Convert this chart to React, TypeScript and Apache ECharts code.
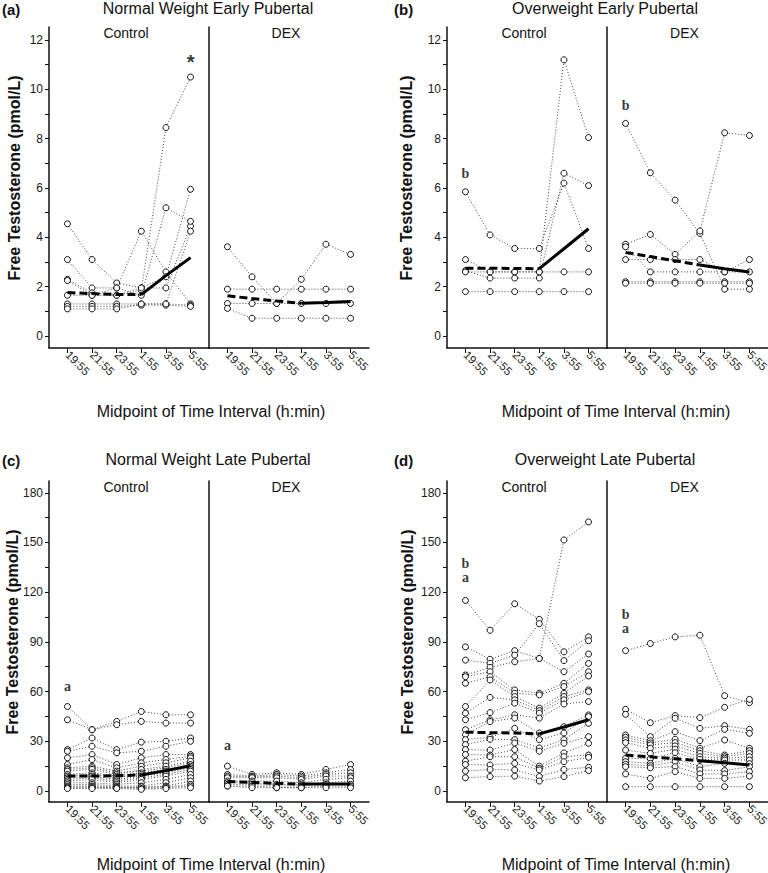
import React, { useEffect, useRef } from 'react';
import * as echarts from 'echarts';

const times = ['19:55', '21:55', '23:55', '1:55', '3:55', '5:55'];
const earlyLabels = [0, 2, 4, 6, 8, 10, 12];
const earlyTicks = [0, 1, 2, 3, 4, 5, 6, 7, 8, 9, 10, 11, 12];
const lateLabels = [0, 30, 60, 90, 120, 150, 180];
const lateTicks = [0, 15, 30, 45, 60, 75, 90, 105, 120, 135, 150, 165, 180];

// (a) Normal Weight Early Pubertal
const aControl = [
  [4.55, 3.1, 2.15, 1.95, 1.95, 4.45],
  [3.1, 1.95, 1.95, 4.25, 2.6, 1.3],
  [2.3, 1.75, 1.65, 1.85, 8.45, 10.5],
  [2.25, 1.65, 1.95, 1.65, 5.2, 4.65],
  [1.65, 1.65, 1.65, 1.95, 2.4, 5.95],
  [1.3, 1.3, 1.3, 1.3, 1.3, 1.25],
  [1.2, 1.2, 1.2, 1.25, 1.25, 1.2],
  [1.1, 1.1, 1.1, 1.3, 1.3, 4.25],
];
const aControlMean = [1.76, 1.72, 1.68, 1.68, 2.45, 3.18];
const aDex = [
  [3.62, 2.4, 1.32, 2.3, 3.72, 3.31],
  [1.9, 1.9, 1.9, 1.9, 1.9, 1.9],
  [1.32, 1.32, 1.32, 1.32, 1.32, 1.32],
  [1.12, 0.72, 0.72, 0.72, 0.72, 0.72],
];
const aDexMean = [1.63, 1.52, 1.42, 1.33, 1.36, 1.4];

// (b) Overweight Early Pubertal
const bControl = [
  [5.85, 4.1, 3.55, 3.55, 6.2, 3.55],
  [3.1, 2.6, 2.6, 2.6, 11.2, 8.05],
  [2.65, 2.35, 2.35, 2.35, 6.6, 6.1],
  [2.6, 2.6, 2.6, 2.6, 2.6, 2.6],
  [1.8, 1.8, 1.8, 1.8, 1.8, 1.8],
];
const bControlMean = [2.75, 2.75, 2.74, 2.73, 3.54, 4.35];
const bDex = [
  [8.62, 6.62, 5.51, 4.16, 1.9, 1.9],
  [3.72, 4.12, 3.31, 4.26, 8.24, 8.13],
  [3.1, 3.1, 3.1, 3.1, 2.6, 3.1],
  [3.62, 2.6, 2.6, 2.6, 2.6, 2.6],
  [2.2, 2.2, 2.2, 2.2, 2.2, 2.2],
  [2.14, 2.14, 2.14, 2.14, 2.14, 2.14],
];
const bDexMean = [3.39, 3.22, 3.05, 2.88, 2.73, 2.6];

// (c) Normal Weight Late Pubertal
const cControl = [
  [51, 37, 42, 48, 46, 46],
  [43, 37, 40, 42, 41, 41],
  [25, 32, 25, 29.5, 30, 32],
  [24, 27, 23, 24, 27, 30],
  [20, 22, 16, 20, 22, 22],
  [16, 19, 14, 17, 19, 21],
  [14, 15, 12, 15, 17, 20],
  [13, 14, 11, 12, 14, 17],
  [12, 13, 10, 13, 15, 18],
  [10, 11, 9, 11, 13, 16],
  [9, 10, 8, 10, 12, 15],
  [8, 9, 7, 9, 11, 14],
  [7, 8, 6, 8, 10, 13],
  [6, 7, 5, 7, 9, 12],
  [5, 5, 4, 5, 7, 10],
  [4, 4, 3, 3, 5, 8],
  [3, 3, 2.5, 2, 3, 6],
  [2.5, 2.5, 1.8, 2.5, 2.5, 4],
  [2, 2, 2, 1.5, 2, 3],
  [1.5, 1.5, 1.5, 1, 1.5, 2],
];
const cControlMean = [9, 9, 9.2, 9.7, 12.3, 15.2];
const cDex = [
  [15, 10, 11, 10, 13, 16],
  [10, 9, 10, 9, 11, 13],
  [9, 8.5, 9, 8, 10, 11],
  [8, 8, 8, 7, 9, 9],
  [6, 6, 6, 5, 7, 8],
  [5, 5, 4, 4, 5, 6],
  [4, 4, 3, 3, 4, 4],
  [3, 3, 2, 2, 3, 3],
  [3, 2, 2, 2, 2, 2],
];
const cDexMean = [5.7, 5.2, 4.6, 4.2, 4.2, 4.2];

// (d) Overweight Late Pubertal
const dControl = [
  [115, 97, 113, 103.6, 84, 93],
  [87, 79.5, 84.7, 80, 151.5, 162.4],
  [79, 77, 82, 101, 78.7, 90.7],
  [70, 74.6, 78, 80, 72, 82.7],
  [69, 72, 61, 59, 65, 77],
  [65, 69, 59, 58, 63, 72],
  [51, 67, 57, 50, 59, 69.4],
  [47, 56.5, 55, 48.5, 57, 61],
  [43, 47.3, 53, 47, 55, 60],
  [37, 42.9, 46, 44, 52.5, 54],
  [34, 41.9, 44, 35, 38.8, 45.9],
  [31, 32.4, 37.8, 31, 35, 44.9],
  [28, 31.2, 31, 26, 31, 40.8],
  [25, 24.7, 29, 24, 28.8, 32.8],
  [22, 21.7, 25, 15, 23, 28.8],
  [18, 20.7, 20.7, 13.7, 20.7, 21.7],
  [16, 15.7, 16.7, 12.7, 17.7, 20.3],
  [12, 13, 12.7, 8.7, 13, 14.3],
  [8, 8.7, 9, 6, 8.7, 12.3],
];
const dControlMean = [35.5, 35.2, 35, 34.5, 38.6, 43];
const dDex = [
  [84.7, 89, 93, 94, 57.5, 53.3],
  [49.3, 41.2, 45.5, 44.3, 50.5, 55.3],
  [46.3, 32.8, 43.9, 37.8, 39.4, 37.2],
  [33.8, 30.4, 35.8, 30.4, 37.2, 34.8],
  [32.4, 29, 31.2, 25.8, 30.8, 25.8],
  [30.8, 27.8, 29.2, 24.3, 21.7, 24.3],
  [29.2, 25.8, 27.2, 22.7, 20.7, 22.7],
  [24.7, 22.7, 25.2, 20.7, 19.7, 20.7],
  [19.7, 19.5, 23.1, 19.1, 18.7, 18.7],
  [17.7, 16.7, 19.7, 14.7, 16.7, 16.5],
  [16.1, 15.3, 17.7, 12.7, 12.3, 14.7],
  [14.7, 14, 14.7, 10.3, 10.3, 11.7],
  [10.3, 7.6, 11.7, 7.6, 7.6, 9],
  [2.6, 2.6, 2.6, 2.6, 2.6, 2.6],
];
const dDexMean = [21.7, 20.6, 19.5, 18.3, 17, 15.7];

// significance marks: time index, value, text
const aControlNotes = [{ i: 5, v: 11.1, t: '*' }];
const aDexNotes: { i: number; v: number; t: string }[] = [];
const bControlNotes = [{ i: 0, v: 6.57, t: 'b' }];
const bDexNotes = [{ i: 0, v: 9.36, t: 'b' }];
const cControlNotes = [{ i: 0, v: 62.8, t: 'a' }];
const cDexNotes = [{ i: 0, v: 27.2, t: 'a' }];
const dControlNotes = [{ i: 0, v: 132.8, t: 'b\na' }];
const dDexNotes = [{ i: 0, v: 102, t: 'b\na' }];

const SANS = "'Liberation Sans', Arial, Helvetica, sans-serif";
const SERIF = "'Liberation Serif', 'Times New Roman', serif";
const Y_NAME = 'Free Testosterone (pmol/L)';
const X_NAME = 'Midpoint of Time Interval (h:min)';

type Note = { i: number; v: number; t: string };
type Panel = {
  tag: string;
  title: string;
  control: number[][];
  controlMean: number[];
  controlNotes: Note[];
  dex: number[][];
  dexMean: number[];
  dexNotes: Note[];
  left: number;
  top: number;
  dexWidth: number;
  yMin: number;
  yMax: number;
  labels: number[];
  ticks: number[];
  yNameX: number;
  yNameY: number;
  xNameX: number;
  xNameY: number;
  titleX: number;
  titleY: number;
  tagX: number;
};

const panels: Panel[] = [
  {
    tag: '(a)', title: 'Normal Weight Early Pubertal',
    control: aControl, controlMean: aControlMean, controlNotes: aControlNotes,
    dex: aDex, dexMean: aDexMean, dexNotes: aDexNotes,
    left: 49, top: 27, dexWidth: 160, yMin: -0.486, yMax: 12.53, labels: earlyLabels, ticks: earlyTicks,
    yNameX: 14, yNameY: 178, xNameX: 211, xNameY: 411, titleX: 208, titleY: 8, tagX: 2,
  },
  {
    tag: '(b)', title: 'Overweight Early Pubertal',
    control: bControl, controlMean: bControlMean, controlNotes: bControlNotes,
    dex: bDex, dexMean: bDexMean, dexNotes: bDexNotes,
    left: 447, top: 27, dexWidth: 161, yMin: -0.486, yMax: 12.53, labels: earlyLabels, ticks: earlyTicks,
    yNameX: 406, yNameY: 178, xNameX: 616, xNameY: 411, titleX: 605, titleY: 8, tagX: 394,
  },
  {
    tag: '(c)', title: 'Normal Weight Late Pubertal',
    control: cControl, controlMean: cControlMean, controlNotes: cControlNotes,
    dex: cDex, dexMean: cDexMean, dexNotes: cDexNotes,
    left: 49, top: 481, dexWidth: 160, yMin: -6.64, yMax: 187.1, labels: lateLabels, ticks: lateTicks,
    yNameX: 12, yNameY: 632, xNameX: 211, xNameY: 864, titleX: 208, titleY: 459, tagX: 2,
  },
  {
    tag: '(d)', title: 'Overweight Late Pubertal',
    control: dControl, controlMean: dControlMean, controlNotes: dControlNotes,
    dex: dDex, dexMean: dDexMean, dexNotes: dDexNotes,
    left: 447, top: 481, dexWidth: 161, yMin: -6.64, yMax: 187.1, labels: lateLabels, ticks: lateTicks,
    yNameX: 407, yNameY: 632, xNameX: 616, xNameY: 864, titleX: 605, titleY: 459, tagX: 394,
  },
];

const GRID_W = 160;
const GRID_H = 321;

function buildOption() {
  const grid: any[] = [];
  const xAxis: any[] = [];
  const yAxis: any[] = [];
  const series: any[] = [];
  const graphic: any[] = [];
  const idx = times.map((_, i) => i);

  const text = (x: number, y: number, t: string, size: number, weight: string, extra: any = {}) => ({
    type: 'text',
    x,
    y,
    silent: true,
    ...extra,
    style: {
      text: t,
      fontSize: size,
      fontWeight: weight,
      fontFamily: SANS,
      fill: '#111',
      align: extra.align || 'center',
      textAlign: extra.align || 'center',
      verticalAlign: 'middle',
      textVerticalAlign: 'middle',
    },
  });

  panels.forEach((p, pi) => {
    const subs = [
      { data: p.control, mean: p.controlMean, notes: p.controlNotes, left: p.left, w: GRID_W, label: 'Control', main: true },
      { data: p.dex, mean: p.dexMean, notes: p.dexNotes, left: p.left + GRID_W, w: p.dexWidth, label: 'DEX', main: false },
    ];
    subs.forEach((s, si) => {
      const g = pi * 2 + si;
      grid.push({ left: s.left, top: p.top, width: s.w, height: GRID_H, containLabel: false, outerBoundsMode: 'none' });
      xAxis.push({
        type: 'value', gridIndex: g, min: -0.75, max: 5.75,
        axisLine: { show: true, onZero: false, lineStyle: { color: '#111', width: 1.5 } },
        axisTick: { show: true, customValues: idx, length: 5, lineStyle: { color: '#111', width: 1 } },
        axisLabel: {
          customValues: idx,
          formatter: (v: number) => times[Math.round(v)] ?? '',
          rotate: -45, margin: 5, fontSize: 11.5, color: '#1a1a1a', fontFamily: SANS,
        },
        splitLine: { show: false },
      });
      yAxis.push({
        type: 'value', gridIndex: g, min: p.yMin, max: p.yMax,
        axisLine: { show: true, onZero: false, lineStyle: { color: '#111', width: 1.5 } },
        axisTick: { show: s.main, customValues: p.ticks, length: 4, lineStyle: { color: '#111', width: 1 } },
        axisLabel: { show: s.main, customValues: p.labels, margin: 6, fontSize: 12, color: '#1a1a1a', fontFamily: SANS },
        splitLine: { show: false },
      });
      s.data.forEach((vals) => {
        series.push({
          type: 'line', xAxisIndex: g, yAxisIndex: g, silent: true, z: 2,
          data: vals.map((v, i) => [i, v]),
          symbol: 'circle', symbolSize: 6, showSymbol: true,
          itemStyle: { color: '#fff', borderColor: '#111', borderWidth: 1 },
          lineStyle: { color: '#444', width: 1, type: [1, 2] },
        });
      });
      series.push({
        type: 'line', xAxisIndex: g, yAxisIndex: g, silent: true, z: 5,
        data: s.mean.slice(0, 4).map((v, i) => [i, v]),
        symbol: 'none', lineStyle: { color: '#000', width: 3, type: [8, 4] },
      });
      series.push({
        type: 'line', xAxisIndex: g, yAxisIndex: g, silent: true, z: 5,
        data: s.mean.slice(3).map((v, i) => [i + 3, v]),
        symbol: 'none', lineStyle: { color: '#000', width: 3 },
      });
      if (s.notes.length) {
        series.push({
          type: 'scatter', xAxisIndex: g, yAxisIndex: g, silent: true, z: 6,
          symbolSize: 1, itemStyle: { color: 'rgba(0,0,0,0)' },
          data: s.notes.map((n) => ({
            value: [n.i, n.v],
            label: n.t === '*'
              ? { formatter: n.t, fontFamily: SANS, fontSize: 20, fontWeight: 'bold' }
              : { formatter: n.t, fontFamily: SERIF, fontSize: 14, fontWeight: 'bold', lineHeight: 14 },
          })),
          label: { show: true, position: 'inside', color: '#000' },
        });
      }
      graphic.push(text(s.left + s.w / 2 - 3, p.top + 6, s.label, 14, 'normal'));
    });
    graphic.push(text(p.tagX, p.titleY + 1, p.tag, 15, 'bold', { align: 'left' }));
    graphic.push(text(p.titleX, p.titleY, p.title, 16, 'normal'));
    graphic.push(text(p.yNameX, p.yNameY, Y_NAME, 16, 'bold', { rotation: Math.PI / 2 }));
    graphic.push(text(p.xNameX, p.xNameY, X_NAME, 16, 'normal'));
  });

  return { animation: false, backgroundColor: '#fff', grid, xAxis, yAxis, series, graphic };
}

export default function App() {
  const ref = useRef<HTMLDivElement>(null);
  useEffect(() => {
    const chart = echarts.init(ref.current!, undefined, { renderer: 'svg' });
    chart.setOption(buildOption());
    return () => chart.dispose();
  }, []);
  return (
    <div
      ref={ref}
      style={{ position: 'fixed', left: 0, top: 0, width: 768, height: 873, background: '#fff' }}
    />
  );
}
